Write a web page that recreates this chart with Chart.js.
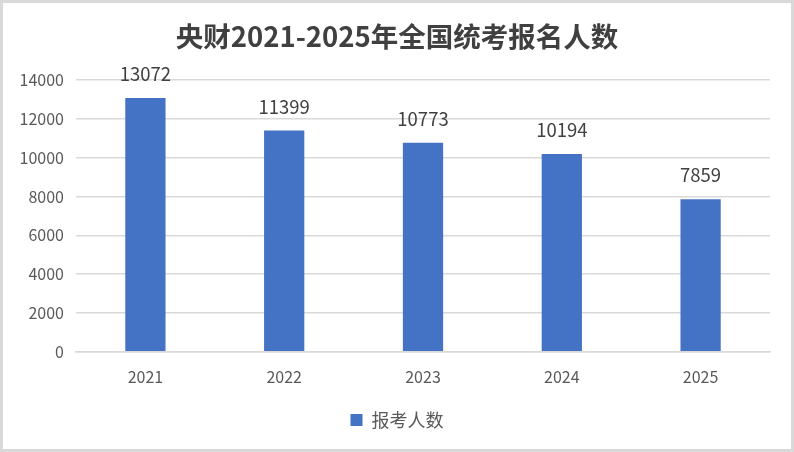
<!DOCTYPE html>
<html>
<head>
<meta charset="utf-8">
<script src="https://cdn.jsdelivr.net/npm/chart.js@4"></script>
<style>
  html, body { margin: 0; padding: 0; background: #fff; }
  #box { width: 794px; height: 452px; box-sizing: border-box; border: 3px solid #d9d9d9; background: #fff; }
</style>
</head>
<body>
<div id="box"><canvas id="myChart" width="788" height="446"></canvas></div>
<script>
const years = ['2021', '2022', '2023', '2024', '2025'];
const applicants = [13072, 11399, 10773, 10194, 7859];
const yTicks = [0, 2000, 4000, 6000, 8000, 10000, 12000, 14000];

const cjk = "'Noto Sans CJK SC', 'Noto Sans', sans-serif";

// numbers above each bar
const barLabels = {
  id: 'barLabels',
  afterDatasetsDraw(chart) {
    let ctx = chart.ctx;
    let meta = chart.getDatasetMeta(0);
    ctx.save();
    ctx.font = '18.5px ' + cjk;
    ctx.fillStyle = '#404040';
    ctx.textAlign = 'center';
    ctx.textBaseline = 'middle';
    meta.data.forEach(function (bar, i) {
      ctx.fillText(String(chart.data.datasets[0].data[i]), bar.x, bar.y - 24);
    });
    ctx.restore();
  }
};

let ctx = document.getElementById('myChart').getContext('2d');
let myChart = new Chart(ctx, {
  type: 'bar',
  data: {
    labels: years,
    datasets: [{
      label: '报考人数',
      data: applicants,
      backgroundColor: '#4472C4',
      barPercentage: 0.29,
      categoryPercentage: 1
    }]
  },
  options: {
    responsive: false,
    animation: false,
    layout: { padding: { left: 13, right: 13, top: 0, bottom: 10 } },
    plugins: {
      title: {
        display: true,
        text: '央财2021-2025年全国统考报名人数',
        color: '#404040',
        font: { family: cjk, size: 27.5, weight: 'bold' },
        padding: { top: 17, bottom: 27 }
      },
      legend: {
        position: 'bottom',
        labels: {
          color: '#595959',
          font: { family: cjk, size: 18 },
          boxWidth: 12,
          boxHeight: 12,
          padding: 16
        }
      },
      tooltip: { enabled: false }
    },
    scales: {
      x: {
        grid: { display: false },
        border: { color: '#d9d9d9', width: 1.5 },
        ticks: { color: '#595959', font: { family: cjk, size: 16 }, padding: 8 }
      },
      y: {
        min: 0,
        max: 14000,
        afterBuildTicks(axis) { axis.ticks = yTicks.map(v => ({ value: v })); },
        afterFit(axis) { axis.width = 60; },
        grid: { color: '#d9d9d9', lineWidth: 1.5, drawTicks: false },
        border: { display: false },
        ticks: { color: '#595959', font: { family: cjk, size: 16 }, padding: 12, callback: v => String(v) }
      },
      // empty strip on the right so the plot ends where the reference does
      yRight: {
        position: 'right',
        grid: { display: false },
        border: { display: false },
        ticks: { display: false },
        afterFit(axis) { axis.width = 8; }
      }
    }
  },
  plugins: [barLabels]
});
</script>
</body>
</html>
